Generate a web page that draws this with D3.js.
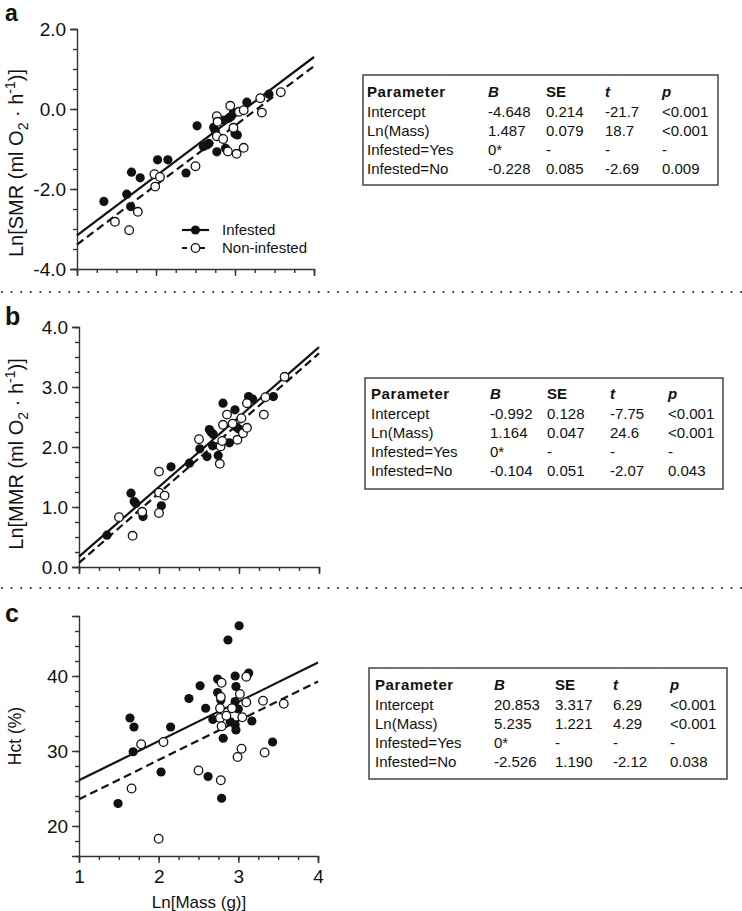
<!DOCTYPE html>
<html><head><meta charset="utf-8">
<script src="https://cdn.jsdelivr.net/npm/d3@7"></script>
<style>
body{margin:0;background:#fff}
svg{display:block}
text{font-family:"Liberation Sans",Arial,Helvetica,sans-serif;fill:#111}
</style>
</head><body>
<svg id="chart" width="742" height="911"></svg>
<script>
// ---------- DATA ----------
const xTicks = [1, 2, 3, 4];
const xTickLabels = ["1", "2", "3", "4"];
const smrTicks = [-4, -2, 0, 2];
const mmrTicks = [0, 1, 2, 3, 4];
const hctTicks = [20, 30, 40];

const smrInfested = [[1.34,-2.31],[1.63,-2.13],[1.68,-2.44],[1.69,-1.58],[1.80,-1.72],[2.02,-1.27],[2.15,-1.27],[2.38,-1.60],[2.52,-0.42],[2.60,-0.94],[2.64,-0.90],[2.67,-0.86],[2.73,-0.46],[2.75,-0.55],[2.77,-1.07],[2.86,-0.28],[2.88,-0.98],[2.92,-0.23],[2.95,-0.19],[2.98,-0.09],[3.00,-0.62],[3.03,-0.65],[3.15,0.17],[3.43,0.37]];
const smrNon = [[1.48,-2.82],[1.66,-3.03],[1.77,-2.57],[1.98,-1.63],[2.05,-1.70],[1.99,-1.94],[2.50,-1.43],[2.77,-0.18],[2.78,-0.32],[2.77,-0.68],[2.85,-0.75],[2.91,-1.06],[2.94,0.08],[2.98,-0.47],[3.02,-1.12],[3.05,-0.07],[3.11,-0.03],[3.11,-0.97],[3.32,0.27],[3.34,-0.09],[3.58,0.42]];
const smrFitInfested = [[1,-3.161],[4,1.300]];
const smrFitNon = [[1,-3.389],[4,1.072]];

const mmrInfested = [[1.35,0.53],[1.65,1.23],[1.69,1.09],[1.71,1.06],[1.80,0.84],[2.03,1.02],[2.15,1.67],[2.38,1.73],[2.51,1.97],[2.60,1.84],[2.63,2.29],[2.65,2.25],[2.68,2.21],[2.67,2.02],[2.74,1.86],[2.80,2.73],[2.88,2.07],[2.95,2.62],[2.97,2.33],[3.00,2.30],[3.12,2.84],[3.17,2.80],[3.43,2.84]];
const mmrNon = [[1.50,0.83],[1.67,0.52],[1.79,0.92],[2.00,1.59],[2.00,1.24],[2.07,1.19],[2.00,0.90],[2.50,2.13],[2.76,1.72],[2.77,2.01],[2.79,2.10],[2.80,2.37],[2.85,2.54],[2.92,2.39],[2.98,2.12],[3.03,2.48],[3.05,2.23],[3.10,2.32],[3.10,2.73],[3.31,2.54],[3.33,2.83],[3.57,3.17]];
const mmrFitInfested = [[1,0.172],[4,3.664]];
const mmrFitNon = [[1,0.068],[4,3.560]];

const hctInfested = [[1.49,23.0],[1.64,34.4],[1.69,33.2],[1.68,29.9],[2.03,27.2],[2.15,33.2],[2.38,37.0],[2.52,38.7],[2.59,35.7],[2.62,26.6],[2.68,34.2],[2.74,39.6],[2.74,37.8],[2.78,36.8],[2.81,31.7],[2.79,23.7],[2.87,44.8],[2.90,33.9],[2.96,40.0],[2.97,38.6],[2.96,36.6],[3.00,35.6],[2.96,33.5],[2.97,32.8],[3.01,46.7],[3.13,40.4],[3.17,34.0],[3.43,31.2]];
const hctNon = [[1.66,25.0],[1.78,30.9],[2.06,31.2],[2.00,18.3],[2.50,27.4],[2.78,26.1],[2.79,39.1],[2.78,37.2],[2.77,35.7],[2.77,34.4],[2.79,33.3],[2.85,34.7],[2.92,35.7],[2.99,29.2],[3.04,30.3],[3.02,37.6],[3.05,34.5],[3.10,36.5],[3.10,39.9],[3.31,36.7],[3.33,29.8],[3.57,36.3]];
const hctFitInfested = [[1,26.09],[4,41.79]];
const hctFitNon = [[1,23.56],[4,39.27]];

const tableHeader = ["Parameter", "B", "SE", "t", "p"];
const tableParams = ["Intercept", "Ln(Mass)", "Infested=Yes", "Infested=No"];
const smrTable = [["-4.648","0.214","-21.7","<0.001"],["1.487","0.079","18.7","<0.001"],["0*","-","-","-"],["-0.228","0.085","-2.69","0.009"]];
const mmrTable = [["-0.992","0.128","-7.75","<0.001"],["1.164","0.047","24.6","<0.001"],["0*","-","-","-"],["-0.104","0.051","-2.07","0.043"]];
const hctTable = [["20.853","3.317","6.29","<0.001"],["5.235","1.221","4.29","<0.001"],["0*","-","-","-"],["-2.526","1.190","-2.12","0.038"]];
const legendLabels = ["Infested", "Non-infested"];

// ---------- DRAW ----------
const svg = d3.select("#chart");
const INK = "#111";

function drawPanel(o) {
  const g = svg.append("g");
  const x = d3.scaleLinear().domain([1, 4]).range([o.x0, o.x1]);
  const y = d3.scaleLinear().domain(o.yDomain).range([o.yb, o.yt]);

  // minor ticks
  g.append("g").attr("transform", `translate(0,${o.yb})`)
    .call(d3.axisBottom(x).tickValues(d3.range(1, 4.001, 0.25)).tickSize(4).tickFormat(""))
    .call(s => s.select(".domain").remove());
  g.append("g").attr("transform", `translate(${o.x0},0)`)
    .call(d3.axisLeft(y).tickValues(d3.range(o.yDomain[0], o.yDomain[1] + 1e-9, o.yMinor)).tickSize(4).tickFormat(""))
    .call(s => s.select(".domain").remove());

  // major axes
  const xa = g.append("g").attr("transform", `translate(0,${o.yb})`)
    .call(d3.axisBottom(x).tickValues(xTicks).tickSizeOuter(0).tickSize(7)
      .tickFormat((d, i) => o.xLabels ? xTickLabels[i] : ""));
  const ya = g.append("g").attr("transform", `translate(${o.x0},0)`)
    .call(d3.axisLeft(y).tickValues(o.yTicks).tickSizeOuter(0).tickSize(7).tickFormat(o.yFmt));
  g.selectAll(".domain, .tick line").attr("stroke", "#333").attr("stroke-width", 1.4);
  xa.selectAll("text").attr("font-size", 19).attr("dy", "0.9em").attr("fill", INK).attr("font-family", null);
  ya.selectAll("text").attr("font-size", 19).attr("dx", "-0.05em").attr("fill", INK).attr("font-family", null);

  // fit lines
  const line = d3.line().x(d => x(d[0])).y(d => y(d[1]));
  g.append("path").datum(o.fitInf).attr("d", line).attr("fill", "none").attr("stroke", INK).attr("stroke-width", 2.2);
  g.append("path").datum(o.fitNon).attr("d", line).attr("fill", "none").attr("stroke", INK).attr("stroke-width", 2.2).attr("stroke-dasharray", "8,4.5");

  // points
  g.append("g").selectAll("circle").data(o.inf).join("circle")
    .attr("cx", d => x(d[0])).attr("cy", d => y(d[1])).attr("r", 4.6).attr("fill", INK);
  g.append("g").selectAll("circle").data(o.non).join("circle")
    .attr("cx", d => x(d[0])).attr("cy", d => y(d[1])).attr("r", 4.3)
    .attr("fill", "#fff").attr("stroke", INK).attr("stroke-width", 1.3);

  // y title
  const yt = g.append("text").attr("transform", `translate(${o.ytx},${o.yty}) rotate(-90)`)
    .attr("text-anchor", "middle").attr("font-size", o.ytSize);
  o.yTitle(yt);

  // panel letter
  g.append("text").attr("x", 5).attr("y", o.letterY).attr("font-size", o.letterSize).attr("font-weight", "bold").text(o.letter);

  // table
  const t = svg.append("g");
  t.append("rect").attr("x", o.tb[0]).attr("y", o.tb[1]).attr("width", o.tb[2]).attr("height", o.tb[3])
    .attr("fill", "none").attr("stroke", "#444").attr("stroke-width", 1.5);
  const cols = o.tcols;
  const rowY = i => o.trow0 + i * 19.2;
  tableHeader.forEach((h, j) => {
    t.append("text").attr("x", cols[j]).attr("y", rowY(0)).attr("dy", "0.36em")
      .attr("font-size", 15).attr("font-weight", "bold")
      .attr("font-style", (j === 1 || j === 3 || j === 4) ? "italic" : "normal")
      .attr("letter-spacing", j === 0 ? "0.6px" : null)
      .text(h);
  });
  tableParams.forEach((p, i) => {
    t.append("text").attr("x", cols[0]).attr("y", rowY(i + 1)).attr("dy", "0.36em").attr("font-size", 15).text(p);
    o.table[i].forEach((v, j) => {
      t.append("text").attr("x", cols[j + 1]).attr("y", rowY(i + 1)).attr("dy", "0.36em").attr("font-size", 15).text(v);
    });
  });
  return { g, x, y };
}

function o2h(sel, main) {
  sel.append("tspan").text(main + " (ml O");
  sel.append("tspan").attr("font-size", "0.7em").attr("dy", 5).text("2");
  sel.append("tspan").attr("dy", -5).text(" \u00B7 h");
  sel.append("tspan").attr("font-size", "0.7em").attr("dy", -8).text("-1");
  sel.append("tspan").attr("dy", 8).text(")]");
}

const fmt1 = d3.format(".1f");

drawPanel({
  x0: 77, x1: 314, yb: 269, yt: 29, yDomain: [-4, 2], yTicks: smrTicks, yMinor: 0.5,
  yFmt: d => fmt1(d).replace("\u2212", "-"), xLabels: false,
  inf: smrInfested, non: smrNon, fitInf: smrFitInfested, fitNon: smrFitNon,
  ytx: 23, yty: 163, ytSize: 20, yTitle: s => o2h(s, "Ln[SMR"), letter: "a", letterY: 21, letterSize: 23,
  tb: [363, 75, 355, 110], tcols: [367, 488, 546, 605, 662], trow0: 92, table: smrTable
});

drawPanel({
  x0: 79, x1: 319, yb: 567, yt: 327, yDomain: [0, 4], yTicks: mmrTicks, yMinor: 0.25,
  yFmt: d => fmt1(d), xLabels: false,
  inf: mmrInfested, non: mmrNon, fitInf: mmrFitInfested, fitNon: mmrFitNon,
  ytx: 23, yty: 454, ytSize: 20, yTitle: s => o2h(s, "Ln[MMR"), letter: "b", letterY: 325, letterSize: 25,
  tb: [365, 378, 358, 111], tcols: [371, 490, 547, 610, 668], trow0: 394, table: mmrTable
});

drawPanel({
  x0: 79, x1: 318, yb: 856, yt: 616, yDomain: [16, 48], yTicks: hctTicks, yMinor: 2,
  yFmt: d => String(d), xLabels: true,
  inf: hctInfested, non: hctNon, fitInf: hctFitInfested, fitNon: hctFitNon,
  ytx: 21, yty: 736, ytSize: 17.5, yTitle: s => s.text("Hct (%)"), letter: "c", letterY: 622, letterSize: 25,
  tb: [369, 668, 358, 111], tcols: [375, 494, 555, 613, 670], trow0: 685, table: hctTable
});

// x title
svg.append("text").attr("x", 199).attr("y", 908).attr("text-anchor", "middle").attr("font-size", 17).text("Ln[Mass (g)]");

// legend (panel a)
const leg = svg.append("g");
[0, 1].forEach(i => {
  const ly = 230 + i * 18;
  leg.append("line").attr("x1", 182).attr("x2", 209).attr("y1", ly).attr("y2", ly)
    .attr("stroke", INK).attr("stroke-width", 2.2).attr("stroke-dasharray", i ? "5,4" : null);
  leg.append("circle").attr("cx", 195.5).attr("cy", ly).attr("r", i ? 4.3 : 4.6)
    .attr("fill", i ? "#fff" : INK).attr("stroke", i ? INK : null).attr("stroke-width", 1.3);
  leg.append("text").attr("x", 222).attr("y", ly).attr("dy", "0.36em").attr("font-size", 15).text(legendLabels[i]);
});

// dotted separators
[292, 588].forEach(yy => {
  svg.append("line").attr("x1", 2).attr("x2", 742).attr("y1", yy).attr("y2", yy)
    .attr("stroke", "#333").attr("stroke-width", 2.2).attr("stroke-linecap", "round").attr("stroke-dasharray", "0,9.6");
});
</script>
</body></html>
